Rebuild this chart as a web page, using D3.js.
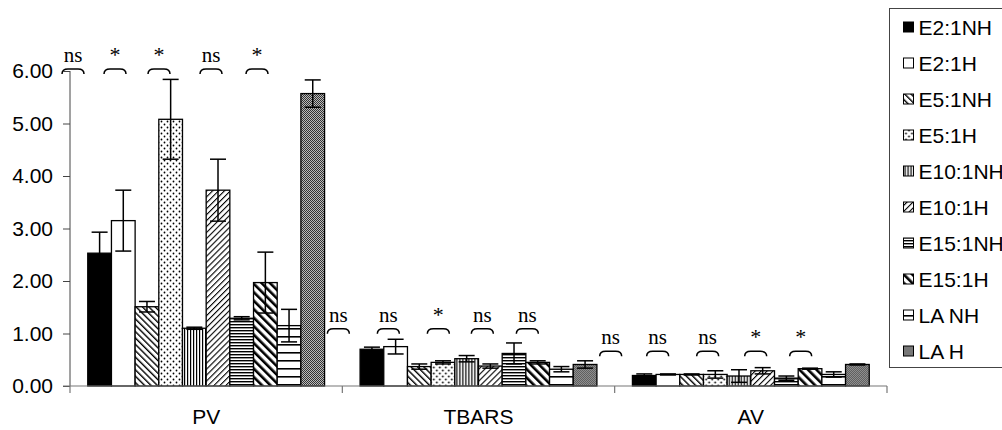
<!DOCTYPE html>
<html>
<head>
<meta charset="utf-8">
<script src="https://cdn.jsdelivr.net/npm/d3@7"></script>
<style>
 body { margin: 0; background: #fff; }
 text { font-family: "Liberation Sans", Arial, sans-serif; }
 .sig { font-family: "Liberation Serif", "Times New Roman", serif; }
</style>
</head>
<body>
<svg width="1002" height="430"></svg>
<script>
// data
var categories = ["PV", "TBARS", "AV"];
var series = ["E2:1NH", "E2:1H", "E5:1NH", "E5:1H", "E10:1NH", "E10:1H", "E15:1NH", "E15:1H", "LA NH", "LA H"];

var pvMeans    = [2.53, 3.15, 1.51, 5.08, 1.10, 3.73, 1.29, 1.97, 1.15, 5.57];
var pvErr      = [0.40, 0.58, 0.10, 0.76, 0.02, 0.59, 0.03, 0.58, 0.31, 0.26];
var tbarsMeans = [0.70, 0.75, 0.37, 0.45, 0.52, 0.38, 0.62, 0.45, 0.32, 0.41];
var tbarsErr   = [0.04, 0.14, 0.05, 0.03, 0.06, 0.04, 0.20, 0.03, 0.05, 0.07];
var avMeans    = [0.20, 0.22, 0.22, 0.22, 0.19, 0.29, 0.15, 0.33, 0.22, 0.41];
var avErr      = [0.03, 0.01, 0.01, 0.07, 0.12, 0.06, 0.04, 0.01, 0.05, 0.01];

var pvSig    = ["ns", "*", "*", "ns", "*"];
var tbarsSig = ["ns", "ns", "*", "ns", "ns"];
var avSig    = ["ns", "ns", "ns", "*", "*"];

var yTicks = [0, 1, 2, 3, 4, 5, 6];

var means = [pvMeans, tbarsMeans, avMeans];
var errs = [pvErr, tbarsErr, avErr];
var sigs = [pvSig, tbarsSig, avSig];

var svg = d3.select("svg");

// scales
var y = d3.scaleLinear().domain([0, 6]).range([386, 71]);
var x = d3.scaleBand().domain(categories).range([70, 887]).padding(0);
var xs = d3.scaleBand().domain(series).range([0, x.bandwidth()])
  .paddingInner(0).paddingOuter(0.75);

// patterns
var defs = svg.append("defs");
function stripes(id, spacing, thick, angle) {
  var p = defs.append("pattern").attr("id", id)
    .attr("patternUnits", "userSpaceOnUse")
    .attr("width", spacing).attr("height", 10)
    .attr("patternTransform", "rotate(" + angle + ")");
  p.append("rect").attr("width", spacing).attr("height", 10).attr("fill", "#fff");
  p.append("rect").attr("width", thick).attr("height", 10).attr("fill", "#000");
}
stripes("p-e5nh", 4.5, 1.4, -45);
stripes("p-e10h", 4.2, 1.1, 45);
stripes("p-e15h", 6, 2.6, -45);
stripes("p-e10nh", 3, 1.2, 0);
stripes("p-e15nh", 3, 1.4, 90);
stripes("p-lanh", 8, 1.6, 90);

var dots = defs.append("pattern").attr("id", "p-e5h")
  .attr("patternUnits", "userSpaceOnUse").attr("width", 6).attr("height", 6);
dots.append("rect").attr("width", 6).attr("height", 6).attr("fill", "#fff");
dots.selectAll("circle").data([[1.5, 1.5], [4.5, 4.5]]).enter().append("circle")
  .attr("cx", function (d) { return d[0]; })
  .attr("cy", function (d) { return d[1]; })
  .attr("r", 0.9).attr("fill", "#000");

var grey = defs.append("pattern").attr("id", "p-lah")
  .attr("patternUnits", "userSpaceOnUse").attr("width", 2).attr("height", 2);
grey.append("rect").attr("width", 2).attr("height", 2).attr("fill", "#bbb");
grey.append("rect").attr("width", 1).attr("height", 1).attr("fill", "#333");
grey.append("rect").attr("x", 1).attr("y", 1).attr("width", 1).attr("height", 1).attr("fill", "#333");

var fills = ["#000", "#fff", "url(#p-e5nh)", "url(#p-e5h)", "url(#p-e10nh)",
  "url(#p-e10h)", "url(#p-e15nh)", "url(#p-e15h)", "url(#p-lanh)", "url(#p-lah)"];
var fill = d3.scaleOrdinal().domain(series).range(fills);

// bars
var groups = svg.selectAll("g.cat")
  .data(categories)
  .enter().append("g")
  .attr("class", "cat")
  .attr("transform", function (d) { return "translate(" + x(d) + ",0)"; });

groups.each(function (cat, ci) {
  var g = d3.select(this);
  var rows = series.map(function (s, i) {
    return { name: s, value: means[ci][i], err: errs[ci][i] };
  });

  g.selectAll("rect.bar").data(rows).enter().append("rect")
    .attr("class", "bar")
    .attr("x", function (d) { return xs(d.name); })
    .attr("y", function (d) { return y(d.value); })
    .attr("width", xs.bandwidth())
    .attr("height", function (d) { return y(0) - y(d.value); })
    .attr("fill", function (d) { return fill(d.name); })
    .attr("stroke", "#000")
    .attr("stroke-width", 1.3);

  // error bars
  var eb = g.selectAll("g.err").data(rows).enter().append("g")
    .attr("class", "err")
    .attr("stroke", "#000").attr("stroke-width", 1.5);
  var cx = function (d) { return xs(d.name) + xs.bandwidth() / 2; };
  eb.append("line")
    .attr("x1", cx).attr("x2", cx)
    .attr("y1", function (d) { return y(d.value + d.err); })
    .attr("y2", function (d) { return y(d.value - d.err); });
  [1, -1].forEach(function (sgn) {
    eb.append("line")
      .attr("x1", function (d) { return cx(d) - 8; })
      .attr("x2", function (d) { return cx(d) + 8; })
      .attr("y1", function (d) { return y(d.value + sgn * d.err); })
      .attr("y2", function (d) { return y(d.value + sgn * d.err); });
  });
});

// significance brackets
var sigLevels = [6.04, 1.09, 0.66];
var sigOffsets = [[3, 45, 89, 141, 187], [-4, 46, 96, 140, 185], [-4, 43, 93, 141, 186]];
categories.forEach(function (cat, ci) {
  var top = y(sigLevels[ci]);
  var sg = svg.append("g");
  sigs[ci].forEach(function (lab, k) {
    var c = x(cat) + sigOffsets[ci][k];
    var x0 = c - 11, x1 = c + 11;
    sg.append("path")
      .attr("d", "M" + x0 + "," + (top + 5) + "Q" + x0 + "," + top + " " + (x0 + 6) + "," + top +
        "L" + (x1 - 6) + "," + top + "Q" + x1 + "," + top + " " + x1 + "," + (top + 5))
      .attr("fill", "none").attr("stroke", "#000").attr("stroke-width", 1.5);
    sg.append("text").attr("class", "sig")
      .attr("x", c).attr("y", top - 7)
      .attr("text-anchor", "middle")
      .attr("font-size", lab == "*" ? 22 : 21)
      .text(lab);
  });
});

// y axis
var yAxis = svg.append("g")
  .attr("transform", "translate(70,0)")
  .call(d3.axisLeft(y).tickValues(yTicks).tickSize(7).tickPadding(10)
    .tickFormat(d3.format(".2f")));
yAxis.select(".domain").attr("d", "M0," + y(6) + "V" + y(0)).attr("stroke", "#444");
yAxis.selectAll(".tick line").attr("stroke", "#444");
yAxis.selectAll("text").attr("font-size", 21).attr("fill", "#000")
  .attr("font-family", "Liberation Sans, Arial, sans-serif");

// x axis
var xAxis = svg.append("g").attr("transform", "translate(0," + y(0) + ")");
xAxis.append("line").attr("x1", 63).attr("x2", 887)
  .attr("stroke", "#777").attr("stroke-width", 1.2);
xAxis.selectAll("line.tk")
  .data(categories.map(function (c) { return x(c); }).concat([x.range()[1]]))
  .enter().append("line").attr("class", "tk")
  .attr("x1", function (d) { return d; }).attr("x2", function (d) { return d; })
  .attr("y1", 0).attr("y2", 7).attr("stroke", "#777").attr("stroke-width", 1.2);
xAxis.selectAll("text").data(categories).enter().append("text")
  .attr("x", function (d) { return x(d) + x.bandwidth() / 2; })
  .attr("y", 38)
  .attr("text-anchor", "middle")
  .attr("font-size", 21)
  .text(function (d) { return d; });

// legend
var legend = svg.append("g").attr("transform", "translate(889.5,8.5)");
legend.append("rect").attr("width", 130).attr("height", 359)
  .attr("fill", "#fff").attr("stroke", "#444").attr("stroke-width", 1);
var li = legend.selectAll("g.item").data(series).enter().append("g")
  .attr("class", "item")
  .attr("transform", function (d, i) { return "translate(0," + (18.5 + i * 36) + ")"; });
li.append("rect").attr("x", 14).attr("y", -5).attr("width", 10).attr("height", 10)
  .attr("fill", function (d) { return fill(d); })
  .attr("stroke", "#000").attr("stroke-width", 1);
li.append("text").attr("x", 29).attr("y", 7.5)
  .attr("font-size", 21)
  .text(function (d) { return d; });
</script>
</body>
</html>
